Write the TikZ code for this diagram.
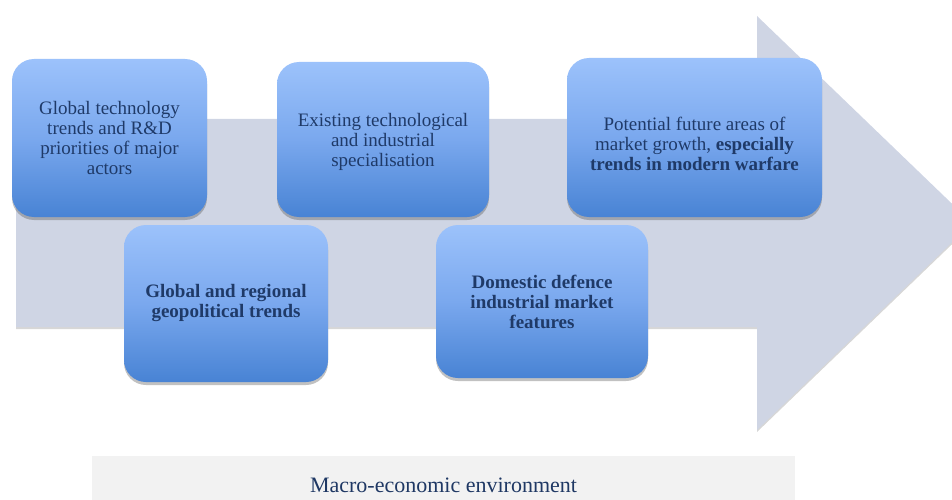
\documentclass[tikz,border=0pt]{standalone}
\usepackage{fontspec}
\setmainfont{Liberation Serif}
\usetikzlibrary{shadows}
\definecolor{arrowfill}{RGB}{207,213,228}
\definecolor{boxtop}{RGB}{156,194,251}
\definecolor{boxmid}{RGB}{122,168,238}
\definecolor{boxbot}{RGB}{72,131,212}
\definecolor{ink}{RGB}{31,58,104}
\definecolor{barfill}{RGB}{242,242,242}
\definecolor{bartext}{RGB}{31,56,100}
\begin{document}
\begin{tikzpicture}[x=1pt,y=-1pt,
  factor/.style={rounded corners=22pt, draw=none,
    top color=boxtop, bottom color=boxbot, middle color=boxmid,
    inner sep=0pt,
    drop shadow={shadow xshift=0pt,shadow yshift=-3pt,opacity=.35,fill=black!70}},
  factortext/.style={text=ink, align=center, inner sep=0pt,
    font=\fontsize{19}{20}\selectfont},
]
\useasboundingbox (0,0) rectangle (952,500);
\begin{scope}
\clip (0,0) rectangle (952,500);
% the broad arrow behind the factors
\fill[black!45, opacity=.35] (16,121) -- (757,121) -- (757,18) -- (972,225)
  -- (757,432) -- (757,329) -- (16,329) -- cycle;
\fill[arrowfill] (16,119) -- (757,119) -- (757,16) -- (972,223)
  -- (757,430) -- (757,327) -- (16,327) -- cycle;
\end{scope}

% factor boxes
\node[factor, minimum width=195pt, minimum height=158pt] (b1) at (109.5,138) {};
\node[factor, minimum width=212pt, minimum height=155pt] (b2) at (383,139.5) {};
\node[factor, minimum width=255pt, minimum height=159pt] (b3) at (694.5,137.5) {};
\node[factor, minimum width=204pt, minimum height=157pt] (b4) at (226,303.5) {};
\node[factor, minimum width=212pt, minimum height=153pt] (b5) at (542,301.5) {};

\node[factortext] (t1) at (b1.center) {Global technology\\trends and R\&D\\priorities of major\\actors};
\node[factortext, yshift=-2pt] (t2) at (b2.center) {Existing technological\\and industrial\\specialisation};
\node[factortext, yshift=-6pt] (t3) at (b3.center) {Potential future areas of\\market growth, \textbf{especially}\\\textbf{trends in modern warfare}};
\node[factortext, font=\fontsize{19}{20}\selectfont\bfseries] (t4) at (b4.center) {Global and regional\\geopolitical trends};
\node[factortext, font=\fontsize{19}{20}\selectfont\bfseries] (t5) at (b5.center) {Domestic defence\\industrial market\\features};

% environment bar
\node[fill=barfill, minimum width=703pt, minimum height=44pt, inner sep=0pt,
  text=bartext, font=\fontsize{22}{24}\selectfont] (env) at (443.5,478) {};
\node[text=bartext, font=\fontsize{22}{24}\selectfont, inner sep=0pt] (envt) at (443.5,485) {Macro-economic environment};
\end{tikzpicture}
\end{document}
